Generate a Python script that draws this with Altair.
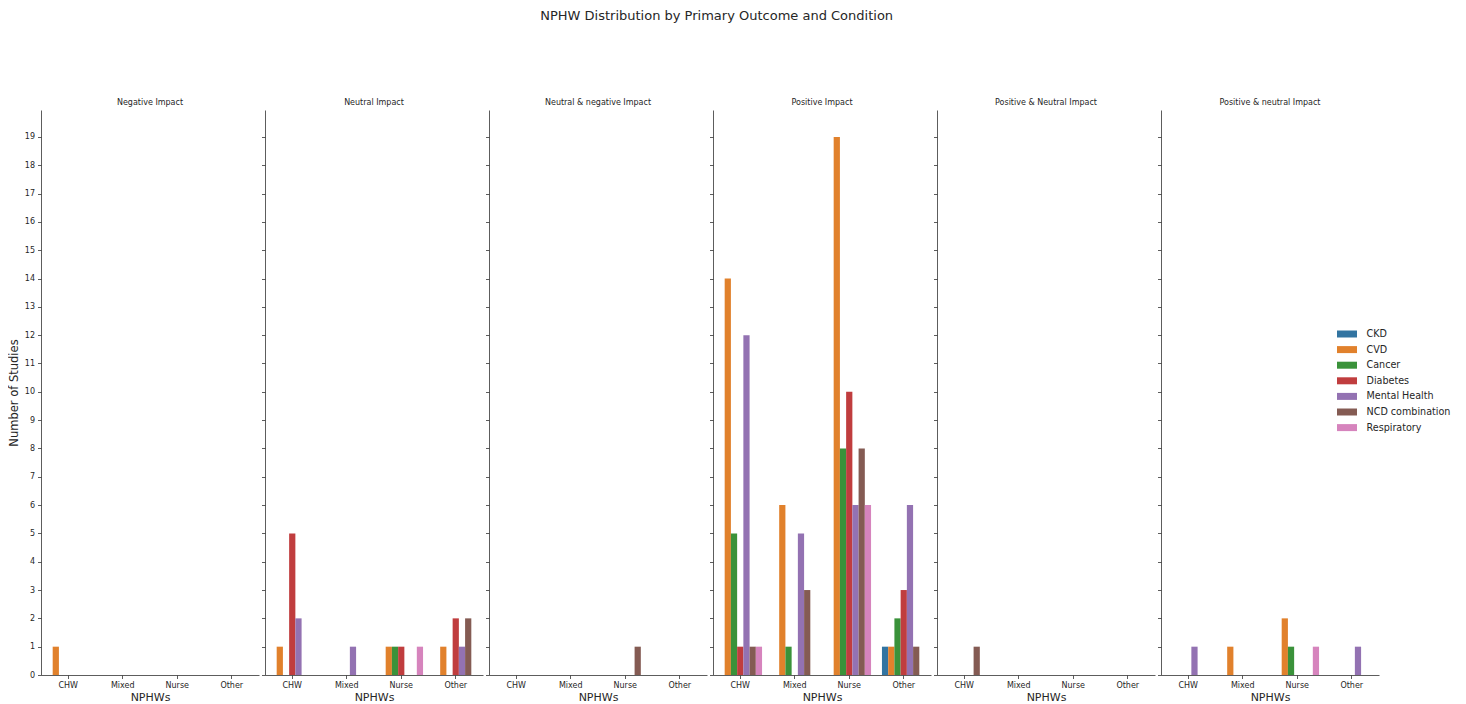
import altair as alt
import pandas as pd

outcomes = [
    "Negative Impact",
    "Neutral Impact",
    "Neutral & negative  Impact",
    "Positive Impact",
    "Positive & Neutral Impact",
    "Positive & neutral Impact",
]
nphws = ["CHW", "Mixed", "Nurse", "Other"]
conditions = ["CKD", "CVD", "Cancer", "Diabetes", "Mental Health", "NCD combination", "Respiratory"]
colors = ["#3274a1", "#e1812c", "#3a923a", "#c03d3e", "#9372b2", "#845b53", "#d684bd"]

# rows = NPHW (CHW, Mixed, Nurse, Other), columns = condition order above
negative_counts = [[0, 1, 0, 0, 0, 0, 0], [0, 0, 0, 0, 0, 0, 0], [0, 0, 0, 0, 0, 0, 0], [0, 0, 0, 0, 0, 0, 0]]
neutral_counts = [[0, 1, 0, 5, 2, 0, 0], [0, 0, 0, 0, 1, 0, 0], [0, 1, 1, 1, 0, 0, 1], [0, 1, 0, 2, 1, 2, 0]]
neutral_negative_counts = [[0, 0, 0, 0, 0, 0, 0], [0, 0, 0, 0, 0, 0, 0], [0, 0, 0, 0, 0, 1, 0], [0, 0, 0, 0, 0, 0, 0]]
positive_counts = [[0, 14, 5, 1, 12, 1, 1], [0, 6, 1, 0, 5, 3, 0], [0, 19, 8, 10, 6, 8, 6], [1, 1, 2, 3, 6, 1, 0]]
positive_Neutral_counts = [[0, 0, 0, 0, 0, 1, 0], [0, 0, 0, 0, 0, 0, 0], [0, 0, 0, 0, 0, 0, 0], [0, 0, 0, 0, 0, 0, 0]]
positive_neutral_counts = [[0, 0, 0, 0, 1, 0, 0], [0, 1, 0, 0, 0, 0, 0], [0, 2, 1, 0, 0, 0, 1], [0, 0, 0, 0, 1, 0, 0]]

all_counts = [negative_counts, neutral_counts, neutral_negative_counts,
              positive_counts, positive_Neutral_counts, positive_neutral_counts]

rows = []
for outcome, mat in zip(outcomes, all_counts):
    for i, nphw in enumerate(nphws):
        for j, cond in enumerate(conditions):
            if mat[i][j] > 0:
                rows.append({"outcome": outcome, "nphw": nphw, "condition": cond, "count": mat[i][j]})
df = pd.DataFrame(rows)

FONT = "DejaVu Sans"
AX = "#333333"
TXT = "#262626"

panels = []
for k, name in enumerate(outcomes):
    yaxis_kw = dict(values=list(range(20)), grid=False, domainColor=AX, tickColor=AX,
                    tickSize=3.5, tickWidth=0.8, domainWidth=0.8, labelFontSize=8,
                    labelColor=TXT, labelFont=FONT, labelPadding=3)
    if k == 0:
        yaxis_kw.update(title="Number of Studies", titleFontSize=11.5, titleFont=FONT,
                        titleFontWeight="normal", titleColor=TXT, titlePadding=5)
    else:
        yaxis_kw.update(labels=False, title="")
    color_kw = dict(scale=alt.Scale(domain=conditions, range=colors))
    if k == 0:
        color_kw["legend"] = alt.Legend(
            title=None, orient="none", legendX=1301, legendY=219, padding=0,
            symbolType="M-2,-0.7H2V0.7H-2Z", symbolSize=100, symbolStrokeWidth=0,
            symbolOpacity=1, labelFontSize=9.6, labelFont=FONT, labelColor=TXT,
            labelOffset=14.5, rowPadding=5.6)
    else:
        color_kw["legend"] = None
    c = (
        alt.Chart(df)
        .transform_filter(alt.datum.outcome == name)
        .mark_bar(opacity=1, strokeWidth=0)
        .encode(
            x=alt.X("nphw:N", scale=alt.Scale(domain=nphws, paddingInner=0.2, paddingOuter=0.1),
                    axis=alt.Axis(title="NPHWs", labelAngle=0, grid=False, domainColor=AX,
                                  tickColor=AX, tickSize=3.5, tickWidth=0.8, domainWidth=0.8,
                                  labelFontSize=8, labelFont=FONT, labelColor=TXT, labelPadding=3,
                                  titleFontSize=11, titleFont=FONT, titleFontWeight="normal",
                                  titleColor=TXT, titlePadding=2)),
            xOffset=alt.XOffset("condition:N", scale=alt.Scale(domain=conditions, paddingInner=0, paddingOuter=0)),
            y=alt.Y("count:Q", scale=alt.Scale(domain=[0, 19.95], nice=False), axis=alt.Axis(**yaxis_kw)),
            color=alt.Color("condition:N", **color_kw),
        )
        .properties(width=218, height=565,
                    title=alt.TitleParams(name, fontSize=8, font=FONT, fontWeight="normal",
                                          color=TXT, offset=3.5))
    )
    panels.append(c)

chart = (
    alt.hconcat(*panels, spacing=2)
    .properties(
        title=alt.TitleParams("NPHW Distribution by Primary Outcome and Condition", fontSize=13,
                              font=FONT, fontWeight="normal", color=TXT, anchor="middle",
                              offset=76, dx=-13),
        padding={"left": 0, "top": 1, "right": 2, "bottom": 0},
    )
    .configure_view(stroke=None)
)

chart.save("out.html", embed_options={"renderer": "svg", "actions": False})
